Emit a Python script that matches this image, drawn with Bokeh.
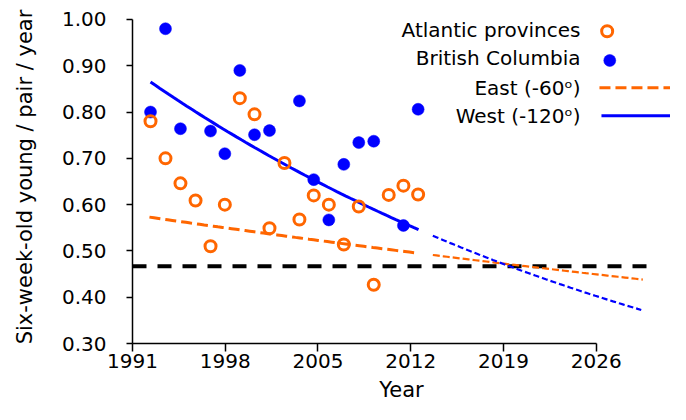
import numpy as np
from bokeh.plotting import figure
from bokeh.models import Range1d, FixedTicker, NumeralTickFormatter
from bokeh.embed import file_html
from bokeh.resources import INLINE
from bokeh.core.properties import value

# ---------------- data ----------------
atl_years = [1992.36, 1993.49, 1994.62, 1995.76, 1996.89, 1997.97, 1999.10, 2000.21,
             2001.34, 2002.47, 2003.60, 2004.68, 2005.82, 2006.95, 2008.08, 2009.21,
             2010.34, 2011.45, 2012.56]
atlantic = [0.780, 0.700, 0.646, 0.609, 0.510, 0.600, 0.830, 0.795, 0.549, 0.690,
            0.568, 0.620, 0.600, 0.514, 0.596, 0.427, 0.621, 0.641, 0.622]

bc_years = [1992.36, 1993.49, 1994.62, 1996.89, 1997.97, 1999.10, 2000.21, 2001.34,
            2003.60, 2004.68, 2005.82, 2006.95, 2008.08, 2009.21, 2011.45, 2012.56]
british_columbia = [0.800, 0.980, 0.764, 0.759, 0.710, 0.890, 0.751, 0.760,
                    0.824, 0.654, 0.567, 0.687, 0.734, 0.737, 0.555, 0.806]

# exponential trend anchors (start, end of fitted span) and projection span
east_anchor_years = [1992.28, 2012.59]
east_anchor_vals = [0.573, 0.495]
east_proj_years = [2013.67, 2029.52]

west_anchor_years = [1992.36, 2012.59]
west_anchor_vals = [0.865, 0.546]
west_proj_years = [2013.67, 2029.40]

threshold_years = [1991.0, 2030.3]
threshold_val = 0.467

x_ticks = [1991, 1998, 2005, 2012, 2019, 2026]
y_ticks = [0.30, 0.40, 0.50, 0.60, 0.70, 0.80, 0.90, 1.00]

legend_labels = ["Atlantic provinces", "British Columbia", "East (-60\u1d52)", "West (-120\u1d52)"]

ORANGE = "#FF6600"
BLUE = "#0000FF"
FONT = "DejaVu Sans"


def exp_curve(xa, ya, xs):
    r = np.log(ya[1] / ya[0]) / (xa[1] - xa[0])
    xs = np.asarray(xs, dtype=float)
    return ya[0] * np.exp(r * (xs - xa[0]))


# ---------------- figure ----------------
X0, X1 = 1991.0, 2031.61
Y0, Y1 = 0.30, 1.0194
p = figure(width=670, height=404, output_backend="svg", toolbar_location=None,
           x_range=Range1d(X0, X1), y_range=Range1d(Y0, Y1),
           min_border_left=132, min_border_right=0, min_border_top=10, min_border_bottom=61)
p.outline_line_color = None
p.xgrid.visible = False
p.ygrid.visible = False
p.background_fill_color = "white"

# helpers to place legend items (pixel positions in the picture)
def lx(px):
    return X0 + (px - 132) / 13.249

def ly(py):
    return 1.0 - (py - 19.0) / 462.9

# threshold line
p.line(threshold_years, [threshold_val, threshold_val], line_color="black",
       line_width=4, line_dash="14 11")

# trend lines
ex = np.linspace(east_anchor_years[0], east_anchor_years[1], 60)
p.line(ex, exp_curve(east_anchor_years, east_anchor_vals, ex), line_color=ORANGE,
       line_width=3, line_dash="11 5")
epx = np.linspace(east_proj_years[0], east_proj_years[1], 60)
p.line(epx, exp_curve(east_anchor_years, east_anchor_vals, epx), line_color=ORANGE,
       line_width=2.2, line_dash="7 3")

wx = np.linspace(west_anchor_years[0], west_anchor_years[1], 60)
p.line(wx, exp_curve(west_anchor_years, west_anchor_vals, wx), line_color=BLUE,
       line_width=3)
wpx = np.linspace(west_proj_years[0], west_proj_years[1], 60)
p.line(wpx, exp_curve(west_anchor_years, west_anchor_vals, wpx), line_color=BLUE,
       line_width=2.2, line_dash="6 3")

# points
p.scatter(bc_years, british_columbia, marker="circle", size=12,
          fill_color=BLUE, line_color=BLUE, line_width=0.5)
p.scatter(atl_years, atlantic, marker="circle", size=11,
          fill_color=None, line_color=ORANGE, line_width=3)

# ---------------- legend (custom, labels left of symbols) ----------------
p.text(x=[lx(580)] * 4, y=[ly(29.3), ly(57.5), ly(87.5), ly(116)], text=legend_labels,
       text_font=value(FONT), text_font_size="20px", text_align="right",
       text_baseline="middle", text_color="black")
p.scatter([lx(606.7)], [ly(30.7)], marker="circle", size=11,
          fill_color=None, line_color=ORANGE, line_width=3)
p.scatter([lx(609.3)], [ly(60)], marker="circle", size=12,
          fill_color=BLUE, line_color=BLUE, line_width=0.5)
p.line([lx(599), lx(679)], [ly(87.3), ly(87.3)], line_color=ORANGE, line_width=3,
       line_dash="11 5")
p.line([lx(601), lx(679)], [ly(115.3), ly(115.3)], line_color=BLUE, line_width=3)

# ---------------- axes ----------------
xa = p.xaxis[0]
xa.ticker = FixedTicker(ticks=x_ticks)
xa.formatter = NumeralTickFormatter(format="0")
xa.bounds = (1991, 2026)
xa.axis_label = "Year"
xa.axis_label_text_font = FONT
xa.axis_label_text_font_size = "21px"
xa.axis_label_text_font_style = "normal"
xa.axis_label_text_color = "black"
xa.axis_label_standoff = 7
xa.major_label_text_font = FONT
xa.major_label_text_font_size = "20px"
xa.major_label_text_color = "black"
xa.major_label_standoff = 2
xa.major_tick_out = 8
xa.major_tick_in = 0
xa.minor_tick_line_color = None
xa.axis_line_width = 1.5
xa.major_tick_line_width = 1.5
xa.axis_line_color = "black"
xa.major_tick_line_color = "black"

ya = p.yaxis[0]
ya.ticker = FixedTicker(ticks=y_ticks)
ya.formatter = NumeralTickFormatter(format="0.00")
ya.bounds = (0.30, 1.00)
ya.axis_label = "Six-week-old young / pair / year"
ya.axis_label_text_font = FONT
ya.axis_label_text_font_size = "21px"
ya.axis_label_text_font_style = "normal"
ya.axis_label_text_color = "black"
ya.axis_label_standoff = 22
ya.major_label_text_font = FONT
ya.major_label_text_font_size = "20px"
ya.major_label_text_color = "black"
ya.major_label_standoff = 20
ya.major_tick_out = 6
ya.major_tick_in = 0
ya.minor_tick_line_color = None
ya.axis_line_width = 1.5
ya.major_tick_line_width = 1.5
ya.axis_line_color = "black"
ya.major_tick_line_color = "black"

open("out.html", "w").write(file_html(p, INLINE))
